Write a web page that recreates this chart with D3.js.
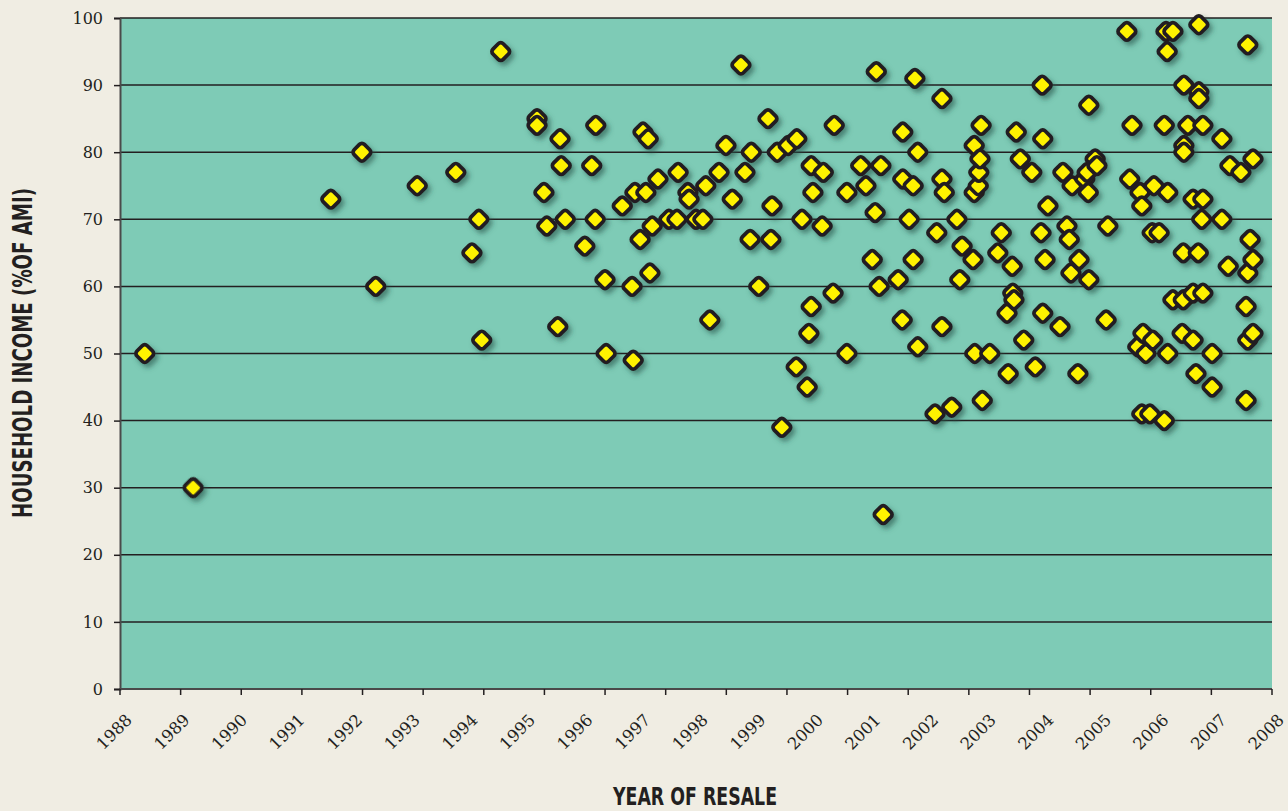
<!DOCTYPE html>
<html lang="en">
<head>
<meta charset="UTF-8">
<title>Household income at resale</title>
<script src="https://cdn.jsdelivr.net/npm/d3@7/dist/d3.min.js"></script>
<style>
  body { margin: 0; background: #f0ede3; }
  svg { display: block; }
  .tick-label { font-family: "DejaVu Serif", serif; fill: #231f20; }
  .axis-title { font-family: "DejaVu Sans Condensed", "DejaVu Sans", sans-serif; font-weight: bold; fill: #231f20; }
</style>
</head>
<body>
<div id="chart"></div>
<script>
const width = 1288;
const height = 811;
const margin = { top: 18, right: 16, bottom: 122, left: 120 };

// year of resale (fractional) and household income (% of AMI)
const years = [
  1988.43, 1989.27, 1991.66, 1992.20, 1992.44, 1993.16, 1993.83, 1994.11, 1994.23, 1994.28,
  1994.61, 1995.24, 1995.24, 1995.36, 1995.41, 1995.60, 1995.64, 1995.66, 1995.73, 1996.07,
  1996.19, 1996.25, 1996.26, 1996.42, 1996.44, 1996.72, 1996.89, 1996.91, 1996.94, 1997.03,
  1997.08, 1997.13, 1997.17, 1997.20, 1997.24, 1997.34, 1997.53, 1997.67, 1997.69, 1997.86,
  1997.88, 1998.00, 1998.12, 1998.17, 1998.24, 1998.40, 1998.52, 1998.63, 1998.78, 1998.85,
  1998.94, 1998.96, 1999.09, 1999.25, 1999.32, 1999.30, 1999.41, 1999.49, 1999.60, 1999.75,
  1999.74, 1999.84, 1999.93, 1999.96, 2000.00, 2000.00, 2000.03, 2000.19, 2000.21, 2000.38,
  2000.40, 2000.62, 2000.62, 2000.86, 2000.95, 2001.06, 2001.11, 2001.13, 2001.18, 2001.21,
  2001.25, 2001.51, 2001.58, 2001.59, 2001.59, 2001.70, 2001.77, 2001.77, 2001.80, 2001.85,
  2001.85, 2002.15, 2002.18, 2002.27, 2002.27, 2002.27, 2002.31, 2002.44, 2002.53, 2002.58,
  2002.62, 2002.81, 2002.83, 2002.83, 2002.84, 2002.90, 2002.91, 2002.93, 2002.95, 2002.97,
  2003.10, 2003.24, 2003.30, 2003.42, 2003.49, 2003.40, 2003.50, 2003.52, 2003.56, 2003.63,
  2003.69, 2003.83, 2003.89, 2003.99, 2004.01, 2004.02, 2004.02, 2004.06, 2004.11, 2004.32,
  2004.37, 2004.44, 2004.48, 2004.51, 2004.53, 2004.63, 2004.65, 2004.75, 2004.79, 2004.81,
  2004.82, 2004.82, 2004.93, 2004.96, 2005.12, 2005.15, 2005.48, 2005.53, 2005.57, 2005.67,
  2005.71, 2005.74, 2005.74, 2005.76, 2005.81, 2005.88, 2005.92, 2005.93, 2005.95, 2006.04,
  2006.13, 2006.13, 2006.16, 2006.18, 2006.19, 2006.19, 2006.28, 2006.28, 2006.44, 2006.46,
  2006.46, 2006.47, 2006.47, 2006.47, 2006.54, 2006.63, 2006.63, 2006.63, 2006.68, 2006.72,
  2006.73, 2006.73, 2006.73, 2006.78, 2006.80, 2006.80, 2006.80, 2006.96, 2006.96, 2007.13,
  2007.13, 2007.24, 2007.27, 2007.46, 2007.55, 2007.55, 2007.58, 2007.58, 2007.58, 2007.62,
  2007.67, 2007.67, 2007.67
];
const income = [
  50, 30, 73, 80, 60, 75, 77, 65, 70, 52,
  95, 85, 84, 74, 69, 54, 82, 78, 70, 66,
  78, 70, 84, 61, 50, 72, 60, 49, 74, 67,
  83, 74, 82, 62, 69, 76, 70, 70, 77, 74,
  73, 70, 70, 75, 55, 77, 81, 73, 93, 77,
  67, 80, 60, 85, 72, 67, 80, 39, 81, 82,
  48, 70, 45, 53, 57, 78, 74, 69, 77, 59,
  84, 50, 74, 78, 75, 64, 71, 92, 60, 78,
  26, 61, 55, 83, 76, 70, 75, 64, 91, 80,
  51, 41, 68, 88, 76, 54, 74, 42, 70, 61,
  66, 64, 81, 74, 50, 75, 77, 79, 84, 43,
  50, 65, 68, 47, 63, 56, 59, 58, 83, 79,
  52, 77, 48, 68, 90, 82, 56, 64, 72, 54,
  77, 69, 67, 62, 75, 47, 64, 76, 77, 74,
  87, 61, 79, 78, 55, 69, 98, 76, 84, 51,
  74, 72, 41, 53, 50, 41, 68, 52, 75, 68,
  84, 40, 98, 95, 74, 50, 98, 58, 53, 65,
  58, 90, 81, 80, 84, 73, 59, 52, 47, 65,
  99, 89, 88, 70, 84, 73, 59, 50, 45, 82,
  70, 63, 78, 77, 57, 43, 96, 62, 52, 67,
  79, 64, 53
];

const yearLabels = [1988, 1989, 1990, 1991, 1992, 1993, 1994, 1995, 1996, 1997, 1998,
  1999, 2000, 2001, 2002, 2003, 2004, 2005, 2006, 2007, 2008];
const yTicks = [0, 10, 20, 30, 40, 50, 60, 70, 80, 90, 100];
const tickCount = 20; // tick marks on the x axis (one fewer than labels, as in the original)

const svg = d3.select('#chart').append('svg')
  .attr('width', width)
  .attr('height', height);

const defs = svg.append('defs');
const shadow = defs.append('filter').attr('id', 'shadow')
  .attr('x', '-50%').attr('y', '-50%').attr('width', '200%').attr('height', '200%');
shadow.append('feDropShadow')
  .attr('dx', 3).attr('dy', 3.5)
  .attr('stdDeviation', 2.5)
  .attr('flood-color', '#255247')
  .attr('flood-opacity', 0.6);

svg.append('rect').attr('width', width).attr('height', height).attr('fill', '#f0ede3');

const x = d3.scaleLinear()
  .domain([1988, 2008])
  .range([margin.left, width - margin.right]);
const y = d3.scaleLinear()
  .domain([0, 100])
  .range([height - margin.bottom, margin.top]);
const xTick = d3.scaleLinear()
  .domain([0, tickCount - 1])
  .range([margin.left, width - margin.right]);

// plot background
svg.append('rect')
  .attr('x', x(1988)).attr('y', y(100))
  .attr('width', x(2008) - x(1988))
  .attr('height', y(0) - y(100))
  .attr('fill', '#7ecbb6');

// gridlines
svg.append('g')
  .selectAll('line')
  .data(yTicks.filter(d => d > 0))
  .join('line')
  .attr('x1', x(1988)).attr('x2', x(2008))
  .attr('y1', d => y(d)).attr('y2', d => y(d))
  .attr('stroke', '#231f20')
  .attr('stroke-width', 1.5);

// y axis
const yAxis = svg.append('g')
  .attr('transform', `translate(${margin.left},0)`)
  .call(d3.axisLeft(y).tickValues(yTicks).tickSize(6).tickPadding(11));
yAxis.select('.domain').attr('stroke', '#4a4a4a').attr('stroke-width', 2);
yAxis.selectAll('.tick line').attr('stroke', '#231f20').attr('stroke-width', 1.5);
yAxis.selectAll('.tick text')
  .attr('class', 'tick-label')
  .style('font-size', '16px');

// x axis tick marks
svg.append('line')
  .attr('x1', x(1988) - 1).attr('x2', x(2008))
  .attr('y1', y(0)).attr('y2', y(0))
  .attr('stroke', '#4a4a4a').attr('stroke-width', 2);
svg.append('g')
  .selectAll('line')
  .data(d3.range(tickCount))
  .join('line')
  .attr('x1', d => xTick(d)).attr('x2', d => xTick(d))
  .attr('y1', y(0)).attr('y2', y(0) + 6)
  .attr('stroke', '#231f20').attr('stroke-width', 1.5);

// x labels, rotated
svg.append('g')
  .selectAll('text')
  .data(yearLabels)
  .join('text')
  .attr('class', 'tick-label')
  .attr('text-anchor', 'end')
  .style('font-size', '16.5px')
  .attr('transform', d => `translate(${x(d) + 13},${y(0) + 32}) rotate(-45)`)
  .text(d => d);

// axis titles
svg.append('text')
  .attr('class', 'axis-title')
  .attr('x', 695).attr('y', 805)
  .attr('text-anchor', 'middle')
  .attr('textLength', 164)
  .attr('lengthAdjust', 'spacingAndGlyphs')
  .style('font-size', '25px')
  .text('YEAR OF RESALE');

svg.append('text')
  .attr('class', 'axis-title')
  .attr('transform', 'translate(32,353) rotate(-90)')
  .attr('text-anchor', 'middle')
  .attr('textLength', 330)
  .attr('lengthAdjust', 'spacingAndGlyphs')
  .style('font-size', '27px')
  .text('HOUSEHOLD INCOME (%OF AMI)');

// diamonds: rounded squares turned 45 degrees
const points = years.map((yr, i) => ({ year: yr, value: income[i] }));
const side = 14.5;

svg.append('g')
  .attr('filter', 'url(#shadow)')
  .selectAll('rect')
  .data(points)
  .join('rect')
  .attr('x', -side / 2).attr('y', -side / 2)
  .attr('width', side).attr('height', side)
  .attr('rx', 3.5).attr('ry', 3.5)
  .attr('transform', d => `translate(${x(d.year)},${y(d.value)}) rotate(45)`)
  .attr('fill', '#fff200')
  .attr('stroke', '#231f20')
  .attr('stroke-width', 3.8);
</script>
</body>
</html>
